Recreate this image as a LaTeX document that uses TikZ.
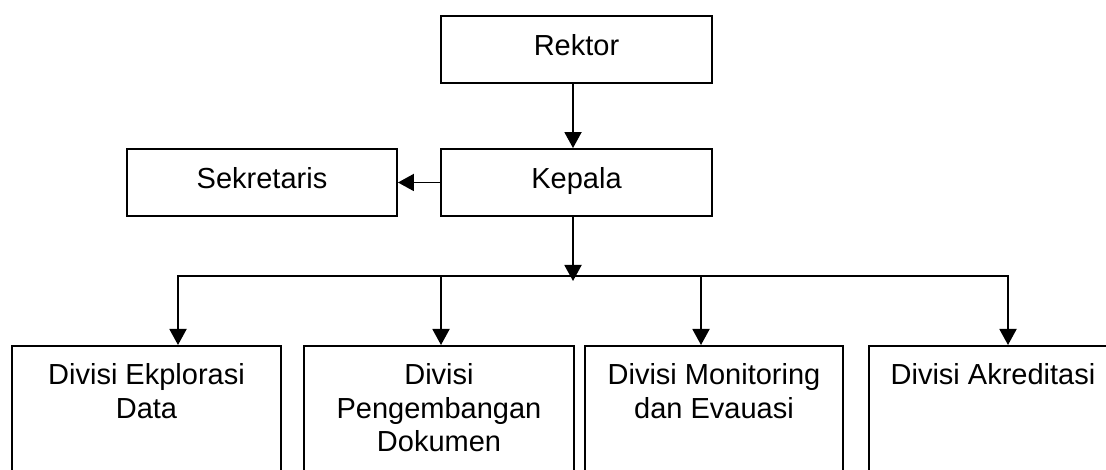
\documentclass[tikz,border=0pt]{standalone}
\usepackage{fontspec}
\setmainfont{Liberation Sans}
\usetikzlibrary{arrows.meta}
\begin{document}
\begin{tikzpicture}[x=1pt,y=-1pt,
  line width=1.9pt,
  conn/.style={-{Triangle[length=16pt,width=17pt]}},
  topbox/.style={draw, rectangle, inner sep=0pt,
    font=\fontsize{29}{33.5}\selectfont, text height=20.5pt, text depth=9pt},
  divbox/.style={draw, rectangle, inner sep=0pt, anchor=north},
  divlabel/.style={inner sep=0pt, align=center, anchor=north,
    font=\fontsize{29}{33.5}\selectfont}
]
\useasboundingbox (0,0) rectangle (1106,470);
\clip (0,0) rectangle (1106,470);

% upper levels
\node[topbox, minimum width=271pt, minimum height=67pt] (rektor) at (576.5,49.5) {Rektor};
\node[topbox, minimum width=271pt, minimum height=67pt] (kepala) at (576.5,182.5) {Kepala};
\node[topbox, minimum width=270pt, minimum height=67pt] (sekretaris) at (262,182.5) {Sekretaris};

% divisions (boxes run past the lower edge)
\node[divbox, minimum width=269pt, minimum height=170pt] (d1) at (146.5,345) {};
\node[divbox, minimum width=270pt, minimum height=170pt] (d2) at (439,345) {};
\node[divbox, minimum width=258pt, minimum height=170pt] (d3) at (714,345) {};
\node[divbox, minimum width=248pt, minimum height=170pt] (d4) at (993,345) {};

\node[divlabel] (t1) at (146.5,363) {Divisi Ekplorasi\\Data};
\node[divlabel] (t2) at (439,363) {Divisi\\Pengembangan\\Dokumen};
\node[divlabel] (t3) at (714,363) {Divisi Monitoring\\dan Evauasi};
\node[divlabel] (t4) at (993,363) {Divisi Akreditasi};

% distribution bar
\coordinate (busL) at (178,276);
\coordinate (bus2) at (441,276);
\coordinate (bus3) at (701,276);
\coordinate (busR) at (1008,276);
\coordinate (busMid) at (573,281);

\draw[line cap=rect] (busL) -- (busR);

% connectors
\draw[conn] ([xshift=-3.5pt]rektor.south) -- ([xshift=-3.5pt]kepala.north);
\draw[conn] (kepala.west) -- (sekretaris.east);
\draw[conn] ([xshift=-3.5pt]kepala.south) -- (busMid);
\draw[conn] (busL) -- (busL |- d1.north);
\draw[conn] (bus2) -- (bus2 |- d2.north);
\draw[conn] (bus3) -- (bus3 |- d3.north);
\draw[conn] (busR) -- (busR |- d4.north);
\end{tikzpicture}
\end{document}
